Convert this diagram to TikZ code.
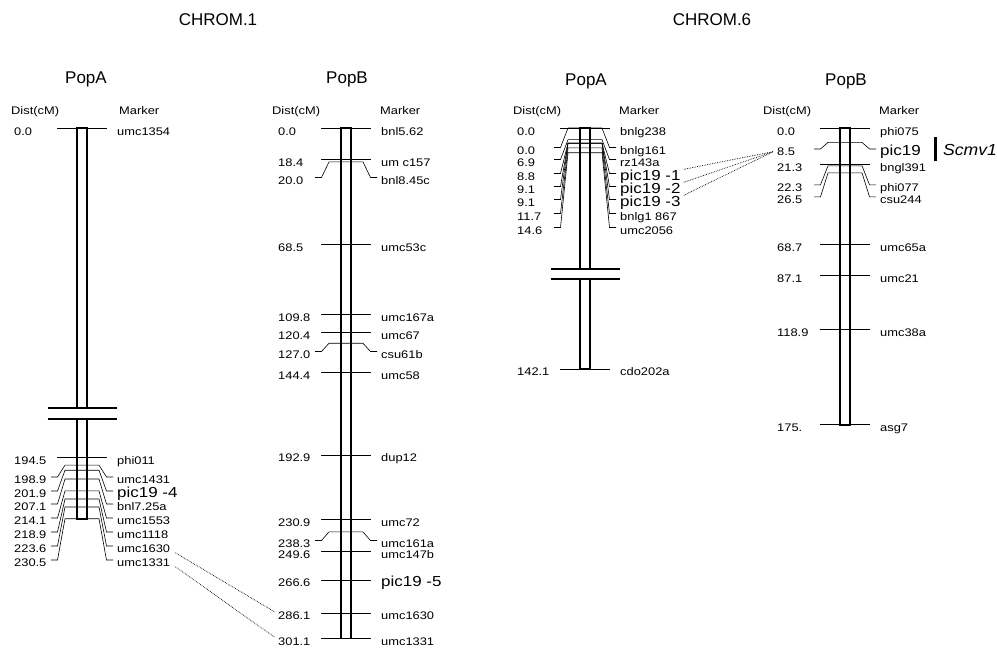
\documentclass[tikz,border=0pt]{standalone}
\usepackage{fontspec}
\setmainfont{Liberation Sans}
\newfontfamily\labfont[FakeStretch=1.17]{Liberation Sans}
\newfontfamily\scmfont[FakeStretch=1.1]{Liberation Sans}
\newcommand{\chrbar}[3]{\draw[line width=1.8pt] (#1-5,#2) rectangle (#1+5,#3);}
\newcommand{\chrbreak}[2]{\draw[line width=2.8pt] (#1-34.5,#2)--(#1+34.5,#2);}
\newcommand{\colhead}[3]{\node[lab,anchor=base west] (dh#3) at (#1,114) {Dist(cM)};
\node[lab,anchor=base west] (mh#3) at (#2,114) {Marker};}
\newcommand{\mkS}[6][lab]{\draw[tk] (#2-25,{128+1.695*#3})--(#2+25,{128+1.695*#3});
\node[lab,anchor=base west] (d#6) at (#2-68,{128+1.695*#3+7}) {#4};
\node[#1,anchor=base west] (m#6) at (#2+35,{128+1.695*#3+7}) {#5};}
\newcommand{\mkC}[7][lab]{\draw[tk] (#2-31,#4)--(#2-24.5,#4)--(#2-17,{128+1.695*#3})--(#2+17,{128+1.695*#3})--(#2+24.5,#4)--(#2+31,#4);
\node[lab,anchor=base west] (d#7) at (#2-68,#4+6.5) {#5};
\node[#1,anchor=base west] (m#7) at (#2+35,#4+6.5) {#6};}

\begin{document}
\begin{tikzpicture}[x=1pt,y=-1pt,
  lab/.style={font=\labfont\fontsize{11}{13}\selectfont,inner sep=0pt},
  big/.style={font=\labfont\fontsize{14.5}{16}\selectfont,inner sep=0pt},
  hd/.style={font=\fontsize{17}{20}\selectfont,inner sep=0pt},
  tk/.style={line width=.6pt},
  dl/.style={densely dotted,line width=.7pt}]
\useasboundingbox (0,0) rectangle (997,648);
\node[hd] (chr1) at (218,20) {CHROM.1};
\node[hd] (chr6) at (712,20) {CHROM.6};
\node[hd,anchor=base] (popA1) at (86,83) {PopA};
\node[hd,anchor=base] (popB1) at (347,83) {PopB};
\node[hd,anchor=base] (popA6) at (586,85) {PopA};
\node[hd,anchor=base] (popB6) at (846,85) {PopB};
\colhead{11}{119}{A}
\colhead{272}{380}{B}
\colhead{513}{619}{C}
\colhead{763}{879}{D}
\chrbar{82}{128}{408}
\chrbar{82}{419}{518.7}
\chrbreak{82}{408}
\chrbreak{82}{419}
\chrbar{346}{128}{638.4}
\chrbar{585}{128}{269}
\chrbar{585}{279}{368.9}
\chrbreak{585}{269}
\chrbreak{585}{279}
\chrbar{845}{128}{424.6}
\mkS{82}{0}{0.0}{umc1354}{Aumc1354}
\mkS{82}{194.5}{194.5}{phi011}{Aphi011}
\mkC{82}{198.9}{477}{198.9}{umc1431}{Aumc1431}
\mkC[big]{82}{201.9}{491}{201.9}{pic19 -4}{Apic4}
\mkC{82}{207.1}{504}{207.1}{bnl7.25a}{Abnl725a}
\mkC{82}{214.1}{518}{214.1}{umc1553}{Aumc1553}
\mkC{82}{218.9}{532}{218.9}{umc1118}{Aumc1118}
\mkC{82}{223.6}{546}{223.6}{umc1630}{Aumc1630}
\mkC{82}{230.5}{560}{230.5}{umc1331}{Aumc1331}
\mkS{346}{0}{0.0}{bnl5.62}{Bbnl562}
\mkS{346}{18.4}{18.4}{um c157}{Bumc157}
\mkC{346}{20.0}{177.5}{20.0}{bnl8.45c}{Bbnl845c}
\mkS{346}{68.5}{68.5}{umc53c}{Bumc53c}
\mkS{346}{109.8}{109.8}{umc167a}{Bumc167a}
\mkS{346}{120.4}{120.4}{umc67}{Bumc67}
\mkC{346}{127.0}{351.5}{127.0}{csu61b}{Bcsu61b}
\mkS{346}{144.4}{144.4}{umc58}{Bumc58}
\mkS{346}{192.9}{192.9}{dup12}{Bdup12}
\mkS{346}{230.9}{230.9}{umc72}{Bumc72}
\mkC{346}{238.3}{540.5}{238.3}{umc161a}{Bumc161a}
\mkS{346}{249.6}{249.6}{umc147b}{Bumc147b}
\mkS[big]{346}{266.6}{266.6}{pic19 -5}{Bpic5}
\mkS{346}{286.1}{286.1}{umc1630}{Bumc1630}
\mkS{346}{301.1}{301.1}{umc1331}{Bumc1331}
\mkS{585}{0}{0.0}{bnlg238}{Cbnlg238}
\mkC{585}{0}{147.5}{0.0}{bnlg161}{Cbnlg161}
\mkC{585}{6.9}{159.5}{6.9}{rz143a}{Crz143a}
\mkC[big]{585}{8.8}{173.5}{8.8}{pic19 -1}{Cpic1}
\mkC[big]{585}{9.1}{186.5}{9.1}{pic19 -2}{Cpic2}
\mkC[big]{585}{9.1}{199.5}{9.1}{pic19 -3}{Cpic3}
\mkC{585}{11.7}{213.5}{11.7}{bnlg1 867}{Cbnlg1867}
\mkC{585}{14.6}{227.5}{14.6}{umc2056}{Cumc2056}
\mkS{585}{142.1}{142.1}{cdo202a}{Ccdo202a}
\mkS{845}{0}{0.0}{phi075}{Dphi075}
\mkC[big]{845}{8.5}{149}{8.5}{pic19}{Dpic19}
\mkS{845}{21.3}{21.3}{bngl391}{Dbngl391}
\mkC{845}{22.3}{184.8}{22.3}{phi077}{Dphi077}
\mkC{845}{26.5}{196.8}{26.5}{csu244}{Dcsu244}
\mkS{845}{68.7}{68.7}{umc65a}{Dumc65a}
\mkS{845}{87.1}{87.1}{umc21}{Dumc21}
\mkS{845}{118.9}{118.9}{umc38a}{Dumc38a}
\mkS{845}{175}{175.}{asg7}{Dasg7}
\draw[line width=3pt] (935,137)--(935,161);
\node[font=\scmfont\itshape\fontsize{16}{18}\selectfont,inner sep=0pt,anchor=west] (scmv) at (943,150) {Scmv1};
\draw[dl] ([xshift=5pt]mAumc1630.south east)--([xshift=-3pt]dBumc1630.north west);
\draw[dl] ([xshift=5pt]mAumc1331.south east)--([xshift=-3pt]dBumc1331.north west);
\draw[dl] ([xshift=3pt]mCpic1.north east)--([xshift=-4pt]dDpic19.west);
\draw[dl] ([xshift=3pt]mCpic2.north east)--([xshift=-4pt]dDpic19.west);
\draw[dl] ([xshift=3pt]mCpic3.north east)--([xshift=-4pt]dDpic19.west);
\end{tikzpicture}
\end{document}
